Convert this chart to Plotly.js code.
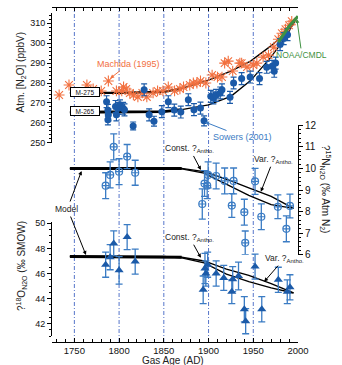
<!DOCTYPE html>
<html><head><meta charset="utf-8">
<script src="https://cdn.plot.ly/plotly-3.0.1.min.js"></script>
<style>html,body{margin:0;padding:0;background:#fff;}#chart{width:342px;height:365px;}</style>
</head><body><div id="chart"></div>
<script>
// ---- data ----
const machidaYear = [1733,1744,1764,1771,1780,1788,1797,1803,1805,1808,1812,1816,1821,1826,1831,1838,1843,1849,1855,1862,1868,1872,1879,1883,1887,1891,1897,1904,1910,1915,1918,1922,1927,1935,1937,1943,1950,1954,1961,1967,1973,1978,1982,1986,1990,1993];
const machidaN2O  = [274,279,279,277,276,281,276,276,278,277,275,274,273,275,273,275,276,276,278,276,277,278,279,280,280,281,280,284,283,283,290,291,286,290,290,288,289,290,293,294,298,302,305,307,309,311];

const sowersYear = [1786,1787.5,1787.5,1788,1796,1797,1799,1801,1804.5,1806,1815.7,1828,1833.6,1839,1847.8,1855,1861.7,1869,1877.4,1883.7,1891,1895,1902.5,1905.4,1908.4,1913,1915,1924,1928,1937,1946.5,1957,1965,1971,1973.4,1975,1980,1984,1988.3];
const sowersN2O  = [270.6,266.3,261.5,264,268.2,264,267.3,269,267.3,266.5,258.4,276.6,264,260.8,265.6,270.6,266.4,265.4,271.6,266.6,267.4,261,273.3,272.5,273.8,275,276.6,272.8,280,282.2,283,282.2,287.9,288.4,285.9,290,299.3,302.3,304.3];
const sowersErr  = [3,3,2.5,3,3,3,3,2.5,3,3,2,3,3,2.5,3,3,3,3,3,3,3,2.5,3,3,3,3,3,3,3,3,3,3,3,3,3,3,3,3,3];

const noaaYear = [1978,1985,1990,1995,2000];
const noaaN2O  = [300.5,305,308.5,311,313.5];

const modelTopYear = [1745,1800,1850,1870,1900,1925,1947,1969,1985,1997];
const modelTopHigh = [275,275,275.5,277.3,281.5,286,291,298.4,304.5,311.8];
const modelTopLow  = [265.3,265.3,265.6,266.6,269,273.3,281.2,292.6,302,311.6];

const d15Year = [1785,1790,1794,1800,1809,1818,1893,1895.5,1898.5,1899.5,1908.5,1918,1926,1928,1940,1941,1952,1959,1977.5,1987,1991];
const d15Val  = [9.2,9.7,11.0,9.85,10.55,9.8,8.35,9.3,9.2,9.7,9.65,9.42,8.28,9.42,7.97,6.55,9.4,7.76,8.22,7.2,8.26];
const d15Err  = [0.6,0.6,0.6,0.6,0.56,0.58,0.7,0.6,0.6,0.6,0.6,0.6,0.55,0.6,0.6,0.55,0.6,0.6,0.55,0.6,0.55];

const d18Year = [1785,1790,1794,1800,1809,1818,1894,1896,1897,1899,1908.5,1917,1926,1927,1933.5,1940,1941.5,1952,1959.5,1978,1988,1991];
const d18Val  = [46.7,47.3,48.4,46.25,48.9,46.95,44.7,46.4,46.0,46.7,46.0,45.65,44.55,45.55,45.8,43.15,42.2,46.55,43.15,45.5,44.55,44.9];
const d18Err  = [1.0,1.0,1.0,1.1,1.0,1.0,1.1,1.2,1.0,1.0,1.0,1.0,0.95,1.0,1.1,1.0,1.0,1.0,1.0,1.0,0.95,1.0];

const modelIsoYear = [1745,1850,1870,1895,1920,1945,1970,1995];
const modelD15Upper = [10,10,10,9.85,9.5,9.1,8.7,8.15];
const modelD15Lower = [10,10,9.98,9.78,9.25,8.75,8.32,8.15];
const modelD18Upper = [47.35,47.35,47.3,47.0,46.35,45.85,45.2,44.45];
const modelD18Lower = [47.35,47.35,47.25,46.85,45.95,45.35,44.85,44.45];

const gridYears = [1750,1800,1850,1900,1950];

// ---- styling ----
const FONT = 'Liberation Sans, Arial, sans-serif';
const ORANGE = '#f2703f';
const BLUE = '#1b5aa8';
const EBLUE = '#3b7cc4';
const GREEN = '#3f9142';

const traces = [];
traces.push({x: modelTopYear, y: modelTopHigh, xaxis:'x', yaxis:'y', mode:'lines', line:{color:'#000', width:1.3}});
traces.push({x: modelTopYear, y: modelTopLow, xaxis:'x', yaxis:'y', mode:'lines', line:{color:'#000', width:1.3}});
traces.push({x: modelTopYear.slice(0,4), y: modelTopHigh.slice(0,4), xaxis:'x', yaxis:'y', mode:'lines', line:{color:'#000', width:2.2}});
traces.push({x: modelTopYear.slice(0,4), y: modelTopLow.slice(0,4), xaxis:'x', yaxis:'y', mode:'lines', line:{color:'#000', width:2.8}});
traces.push({x: machidaYear, y: machidaN2O, xaxis:'x', yaxis:'y', mode:'markers', marker:{symbol:'asterisk-open', size:9, line:{color:ORANGE, width:1.1}, color:ORANGE}});
traces.push({x: sowersYear, y: sowersN2O, xaxis:'x', yaxis:'y', mode:'markers', marker:{symbol:'circle', size:7, color:BLUE},
  error_y:{type:'data', array:sowersErr, visible:true, color:BLUE, thickness:1.2, width:3}});
traces.push({x: noaaYear, y: noaaN2O, xaxis:'x', yaxis:'y', mode:'lines', line:{color:GREEN, width:3}});

traces.push({x: modelIsoYear, y: modelD15Upper, xaxis:'x', yaxis:'y2', mode:'lines', line:{color:'#000', width:1.4}});
traces.push({x: modelIsoYear, y: modelD15Lower, xaxis:'x', yaxis:'y2', mode:'lines', line:{color:'#000', width:1.4}});
traces.push({x: modelIsoYear.slice(0,3), y: modelD15Upper.slice(0,3), xaxis:'x', yaxis:'y2', mode:'lines', line:{color:'#000', width:3}});
traces.push({x: d15Year, y: d15Val, xaxis:'x', yaxis:'y2', mode:'markers', marker:{symbol:'circle-cross-open', size:7, color:EBLUE, line:{color:EBLUE, width:1.2}},
  error_y:{type:'data', array:d15Err, visible:true, color:EBLUE, thickness:1.3, width:3.5}});

traces.push({x: modelIsoYear, y: modelD18Upper, xaxis:'x', yaxis:'y3', mode:'lines', line:{color:'#000', width:1.4}});
traces.push({x: modelIsoYear, y: modelD18Lower, xaxis:'x', yaxis:'y3', mode:'lines', line:{color:'#000', width:1.4}});
traces.push({x: modelIsoYear.slice(0,3), y: modelD18Upper.slice(0,3), xaxis:'x', yaxis:'y3', mode:'lines', line:{color:'#000', width:3}});
traces.push({x: d18Year, y: d18Val, xaxis:'x', yaxis:'y3', mode:'markers', marker:{symbol:'triangle-up', size:8, color:BLUE},
  error_y:{type:'data', array:d18Err, visible:true, color:EBLUE, thickness:1.3, width:3.5}});

traces.push({x: [], y: [], xaxis:'x2', yaxis:'y', mode:'markers'});

const X0 = 52, YB = 342, W = 246, H = 335;
const px = v => (v - X0) / W;
const py = v => (YB - v) / H;

const tf = {family: FONT, size: 9, color:'#111'};
const axisCommon = {showgrid:false, zeroline:false, showline:true, linecolor:'#000', linewidth:1, tickcolor:'#000', tickwidth:1, tickfont: tf};
const lab = (text, x, y, angle, size) => ({text, xref:'paper', yref:'paper', x:px(x), y:py(y), xanchor:'center', yanchor:'middle',
  textangle: angle, showarrow:false, font:{family:FONT, size:size, color:'#222'}});
const arr = (text, yref, x, y, ax, ay, color, size) => ({text, xref:'x', yref, x, y, ax, ay, xanchor:'center', yanchor:'middle',
  showarrow:true, arrowhead:2, arrowsize:0.8, arrowwidth:1, arrowcolor:color, font:{family:FONT, size:size, color: color === '#000' ? '#222' : color}});

const layout = {
  width: 342, height: 365,
  margin: {l: 52, r: 44, t: 7, b: 23, pad: 0},
  paper_bgcolor: '#fff', plot_bgcolor: 'rgba(0,0,0,0)',
  showlegend: false,
  font: {family: FONT, size: 9, color: '#111'},
  xaxis: Object.assign({}, axisCommon, {domain:[0,1], range:[1725,2000], anchor:'free', position:0,
    ticks:'inside', ticklen:4, tick0:1750, dtick:50, ticklabelstandoff:0, tickfont:{family:FONT, size:9.5, color:'#111'},
    minor:{dtick:10, ticks:'inside', ticklen:3, tickcolor:'#000'}}),
  xaxis2: Object.assign({}, axisCommon, {overlaying:'x', side:'top', anchor:'free', position:1, range:[1725,2000],
    ticks:'inside', ticklen:3, tick0:1750, dtick:10, showticklabels:false}),
  yaxis: Object.assign({}, axisCommon, {domain:[py(142.7), py(13.35)], range:[250,315], anchor:'x', side:'left',
    ticks:'outside', ticklen:4, tick0:250, dtick:10, minor:{dtick:2, ticks:'outside', ticklen:2, tickcolor:'#000'}}),
  yaxis2: Object.assign({}, axisCommon, {domain:[py(254.7), py(125.3)], range:[6,12], anchor:'x', side:'right',
    ticks:'outside', ticklen:4, tick0:6, dtick:1, tickfont:{family:FONT, size:10, color:'#111'},
    minor:{dtick:0.2, ticks:'outside', ticklen:2, tickcolor:'#000'}}),
  yaxis3: Object.assign({}, axisCommon, {domain:[py(336.25), py(222.05)], range:[41,50.1], anchor:'x', side:'left',
    ticks:'outside', ticklen:4, tick0:42, dtick:2, minor:{dtick:0.5, ticks:'outside', ticklen:2, tickcolor:'#000'}}),
  shapes: gridYears.map(g => ({type:'line', xref:'x', yref:'paper', x0:g, x1:g, y0:0, y1:1, layer:'below',
    line:{color:'#4466c4', width:0.9, dash:'4px,2px,1px,2px'}})),
  annotations: [
    lab('Atm. [N<sub>2</sub>O] (ppbV)', 21, 72.5, -90, 10),
    lab('?<sup>15</sup>N<sub>N2O</sub> (‰ Atm N<sub>2</sub>)', 326, 189, 90, 10),
    lab('?<sup>18</sup>O<sub>N2O</sub> (‰ SMOW)', 21, 266, -90, 10),
    lab('Gas Age (AD)', 173, 360.5, 0, 10),
    lab('Model', 66.7, 209, 0, 8.5),
    arr('Machida (1995)', 'y', 1790, 282.3, 18, -14, ORANGE, 9),
    arr('Sowers (2001)', 'y', 1896, 260.4, 38, 15, EBLUE, 9),
    arr('NOAA/CMDL', 'y', 1998.7, 312.2, 5, 36, GREEN, 8.5),
    {text:'M-275', xref:'x', yref:'y', x:1762, y:275.4, xanchor:'center', yanchor:'middle', showarrow:false, bgcolor:'#fff', bordercolor:'#000', borderwidth:1, borderpad:1, width:26, height:6, font:{family:FONT, size:6.5, color:'#111'}},
    {text:'M-265', xref:'x', yref:'y', x:1762, y:265.8, xanchor:'center', yanchor:'middle', showarrow:false, bgcolor:'#fff', bordercolor:'#000', borderwidth:1, borderpad:1, width:26, height:6, font:{family:FONT, size:6.5, color:'#111'}},
    arr('', 'y2', 1758, 9.88, -12, 32, '#000', 8.5),
    arr('', 'y3', 1763, 47.47, -16, -40, '#000', 8.5),
    arr('Const. ?<sub>Antho.</sub>', 'y2', 1891.4, 9.93, -11, -21, '#000', 8.5),
    arr('Const. ?<sub>Antho.</sub>', 'y3', 1891.4, 47.26, -11, -20, '#000', 8.5),
    arr('Var. ?<sub>Antho.</sub>', 'y2', 1958.5, 8.92, 12.5, -32, '#000', 8.5),
    arr('Var. ?<sub>Antho.</sub>', 'y3', 1962.2, 45.35, 20, -23, '#000', 8.5)
  ]
};

Plotly.newPlot('chart', traces, layout, {staticPlot:true, displayModeBar:false});
</script>
</body></html>
